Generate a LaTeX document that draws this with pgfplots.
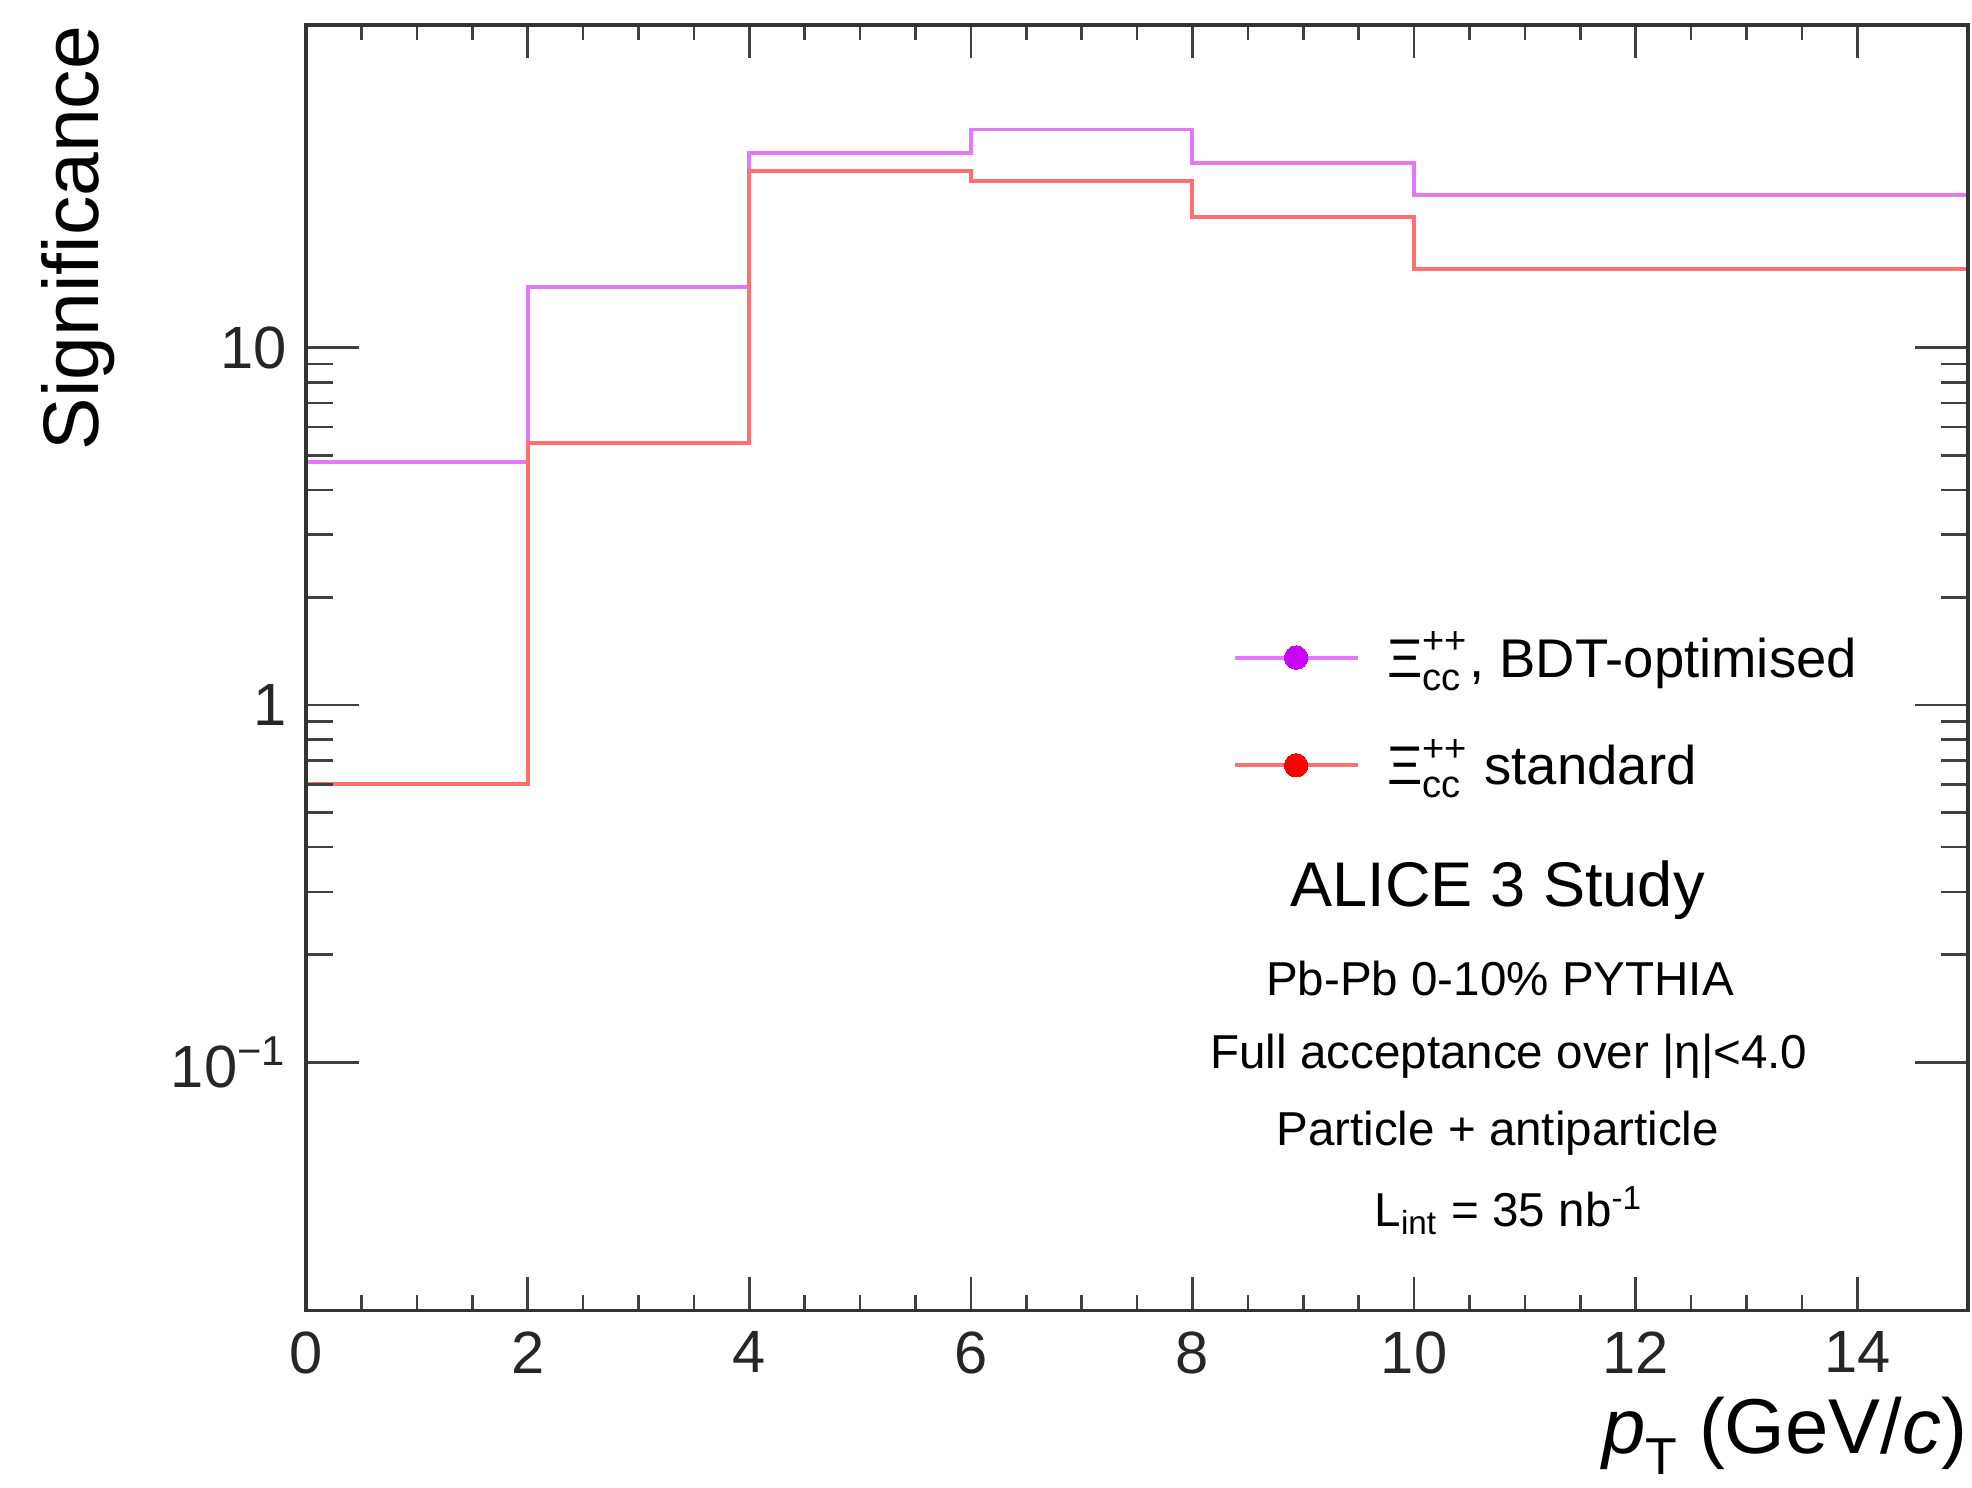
\documentclass[border=0pt]{standalone}
\usepackage{fontspec}
\setmainfont{Liberation Sans}
\usepackage{amsmath}
\usepackage{pgfplots}
\pgfplotsset{compat=1.18}

\definecolor{bdtline}{RGB}{228,118,255}
\definecolor{bdtmark}{RGB}{204,0,255}
\definecolor{stdline}{RGB}{255,112,112}
\definecolor{stdmark}{RGB}{255,0,0}

\newcommand{\Xicc}{$\text{Ξ}^{\text{++}}_{\text{cc}}$}

\pgfplotsset{
  rootframe/.style={
    width=13.51cm, height=10.45cm, scale only axis,
    xmin=0, xmax=15, ymin=0.0202, ymax=80,
    axis line style={line width=0.8pt, black!80},
    tick align=inside, xtick pos=both, ytick pos=both,
    tick style={line width=0.6pt, black!75},
  },
}

\begin{document}
\begin{tikzpicture}
\begin{semilogyaxis}[
  rootframe,
  major tick length=0.27cm, minor tick length=0.125cm,
  xtick={0,2,...,14}, minor x tick num=3,
  ytick={0.1,1,10}, yticklabels={10\textsuperscript{−1},1,10},
  /pgf/number format/assume math mode=true,
  tick label style={font=\fontsize{13.8}{16}\selectfont, black!85},
  xticklabel style={yshift=-0.05cm},
  yticklabel style={xshift=-0.03cm},
  xlabel={\textit{p}\raisebox{-0.26em}{\fontsize{12}{13}\selectfont T} (GeV/\textit{c})},
  xlabel style={at={(rel axis cs:1,0)}, anchor=north east, yshift=-0.70cm,
    inner sep=0pt, font=\fontsize{18}{20}\selectfont},
  ylabel={Significance},
  ylabel style={at={(rel axis cs:-0.125,1)}, anchor=base east,
    inner sep=0pt, font=\fontsize{18.2}{20}\selectfont},
  legend style={at={(rel axis cs:0.557,0.466)}, anchor=west, draw=none,
    fill=none, inner sep=0pt, row sep=0.31cm,
    font=\fontsize{12.6}{15}\selectfont,
    nodes={inner xsep=3pt}},
  legend cell align=left,
  legend image code/.code={
    \draw[#1, mark=none] (0cm,0cm) -- (1cm,0cm);
    \draw[#1, line width=0pt] plot coordinates {(0.5cm,0cm)};
  },
  /tikz/every odd column/.append style={column sep=0.12cm},
]
% BDT-optimised
\addplot[bdtline, line width=0.9pt, const plot, forget plot] coordinates {
  (0,4.79)(2,14.8)(4,35.1)(6,40.8)(8,32.9)(10,26.8)(15,26.8)};
% standard
\addplot[stdline, line width=0.9pt, const plot, forget plot] coordinates {
  (0,0.60)(2,5.40)(4,31.2)(6,29.3)(8,23.2)(10,16.6)(15,16.6)};

\addlegendimage{bdtline, line width=0.9pt, mark=*, mark size=2.7pt,
  mark options={fill=bdtmark, draw=bdtmark}}
\addlegendentry{\Xicc, BDT-optimised}
\addlegendimage{stdline, line width=0.9pt, mark=*, mark size=2.7pt,
  mark options={fill=stdmark, draw=stdmark}}
\addlegendentry{\Xicc\ standard}

\node[font=\fontsize{14.6}{16}\selectfont] at (rel axis cs:0.717,0.3268) {ALICE 3 Study};
\node[font=\fontsize{11}{12}\selectfont] at (rel axis cs:0.7184,0.2584) {Pb-Pb 0-10\% PYTHIA};
\node[font=\fontsize{11}{12}\selectfont] at (rel axis cs:0.7238,0.1977) {Full acceptance over |η|<4.0};
\node[font=\fontsize{11}{12}\selectfont] at (rel axis cs:0.717,0.1377) {Particle + antiparticle};
\node[font=\fontsize{11}{12}\selectfont] at (rel axis cs:0.7238,0.0778) {L$_{\text{int}}$ = 35 nb$^{\text{-1}}$};
\end{semilogyaxis}
% longer y ticks drawn on top
\begin{semilogyaxis}[
  rootframe,
  major tick length=0.43cm, minor tick length=0.22cm,
  xtick=\empty, ytick={0.1,1,10}, yticklabels={},
]
\end{semilogyaxis}
\pgfresetboundingbox
\path[use as bounding box] (current axis.south west) ++(-2.488cm,-1.439cm)
  rectangle ([shift={(0.0325cm,0.203cm)}]current axis.north east);
\end{tikzpicture}
\end{document}
